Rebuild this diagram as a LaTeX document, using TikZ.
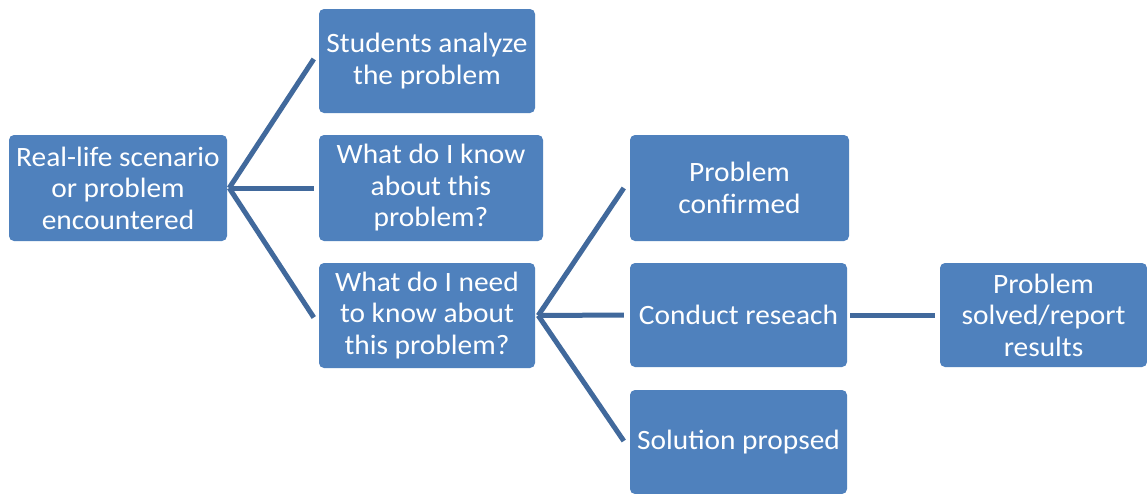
\documentclass[tikz,border=0pt]{standalone}
\usepackage{fontspec}
\setmainfont[FakeStretch=1.05]{Carlito}
\definecolor{boxfill}{HTML}{4F81BD}
\definecolor{linecol}{HTML}{41699C}
\begin{document}
\begin{tikzpicture}[x=1pt,y=-1pt,
  box/.style={draw=none,fill=boxfill,rounded corners=5pt,inner sep=0pt,align=center,
    text=white,font=\fontsize{28}{31.5}\selectfont},
  link/.style={draw=linecol,line width=5pt}]
\useasboundingbox (0,0) rectangle (1147,493);
\fill[white] (0,0) rectangle (1147,493);
\node[box,minimum width=218pt,minimum height=106pt] (n1) at (118,188) {Real-life scenario\\or problem\\encountered};
\node[box,minimum width=216pt,minimum height=104pt] (n2) at (427,61) {Students analyze\\the problem};
\node[box,minimum width=224pt,minimum height=106pt] (n3) at (431,188) {What do I know\\about this\\problem?};
\node[box,minimum width=216pt,minimum height=105pt] (n4) at (427,315.5) {What do I need\\to know about\\this problem?};
\node[box,minimum width=219pt,minimum height=106pt] (n5) at (739.5,188) {Problem\\confirmed};
\node[box,minimum width=217pt,minimum height=104pt] (n6) at (738.5,315) {Conduct reseach};
\node[box,minimum width=207pt,minimum height=104pt] (n7) at (1043.5,315) {Problem\\solved/report\\results};
\node[box,minimum width=217pt,minimum height=104pt] (n8) at (738.5,442) {Solution propsed};
\coordinate (s1) at ([xshift=2pt]n1.east);
\coordinate (s4) at ([xshift=3pt]n4.east);
\draw[link] (s1) -- ([xshift=-5pt,yshift=2pt]n2.west);
\draw[link] (s1) -- ([xshift=-5pt]n3.west);
\draw[link] (s1) -- ([xshift=-5pt,yshift=-2pt]n4.west);
\draw[link] (s4) -- ([xshift=-6pt]n5.west);
\draw[link] (s4) -- ([xshift=-6pt]n6.west);
\draw[link] (s4) -- ([xshift=-6pt,yshift=1pt]n8.west);
\draw[link] ([xshift=3pt]n6.east) -- ([xshift=-5pt]n7.west);
\end{tikzpicture}
\end{document}
